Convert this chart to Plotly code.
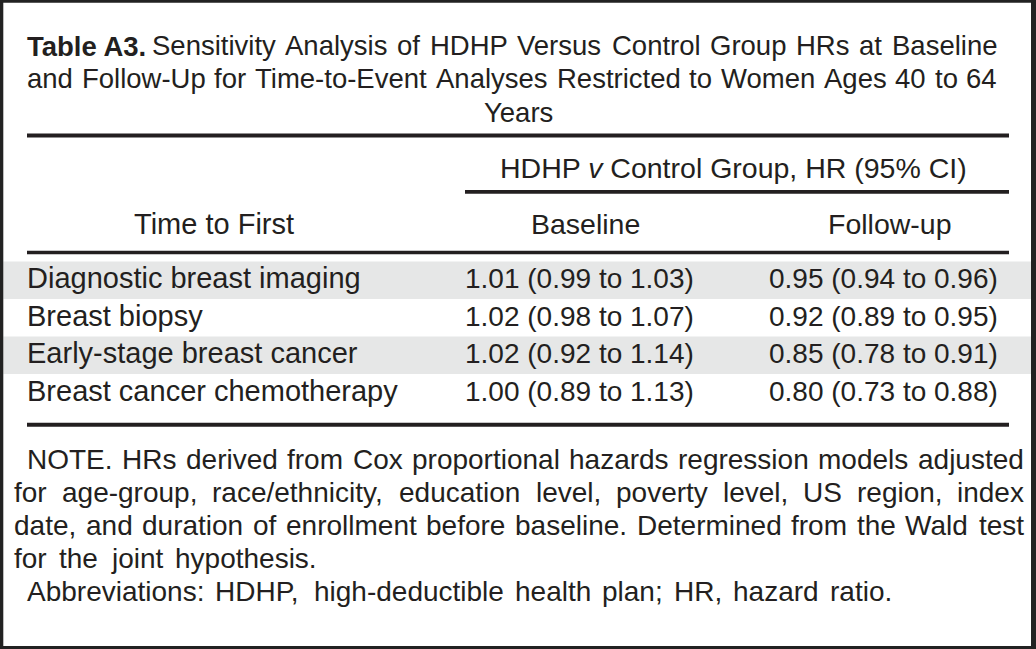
import plotly.graph_objects as go

# ---------------- data ----------------
title_bold = "Table A3."
title_lines = [
    "Sensitivity Analysis of HDHP Versus Control Group HRs at Baseline",
    "and Follow-Up for Time-to-Event Analyses Restricted to Women Ages 40 to 64",
    "Years",
]
group_header = "HDHP <i>v</i> Control Group, HR (95% CI)"
row_header = "Time to First"
periods = ["Baseline", "Follow-up"]
outcomes = [
    "Diagnostic breast imaging",
    "Breast biopsy",
    "Early-stage breast cancer",
    "Breast cancer chemotherapy",
]
baseline_hr = [1.01, 1.02, 1.02, 1.00]
baseline_lo = [0.99, 0.98, 0.92, 0.89]
baseline_hi = [1.03, 1.07, 1.14, 1.13]
followup_hr = [0.95, 0.92, 0.85, 0.80]
followup_lo = [0.94, 0.89, 0.78, 0.73]
followup_hi = [0.96, 0.95, 0.91, 0.88]
note_lines = [
    "NOTE. HRs derived from Cox proportional hazards regression models adjusted",
    "for age-group, race/ethnicity, education level, poverty level, US region, index",
    "date, and duration of enrollment before baseline. Determined from the Wald test",
    "for the joint hypothesis.",
]
abbrev_line = "Abbreviations: HDHP, high-deductible health plan; HR, hazard ratio."

# ---------------- style ----------------
W, H = 1036, 649
FONT = "Liberation Sans, Arial, Helvetica, sans-serif"
INK = "#231f20"
SHADE = "#e6e7e7"

# Arial / Liberation Sans advance widths (1/1000 em)
AW = {' ': 278, '!': 278, '(': 333, ')': 333, ',': 278, '-': 333, '.': 278, '/': 278,
      ':': 278, ';': 278, '%': 889,
      'A': 667, 'B': 667, 'C': 722, 'D': 722, 'E': 667, 'F': 611, 'G': 778, 'H': 722,
      'I': 278, 'J': 500, 'K': 667, 'L': 556, 'M': 833, 'N': 722, 'O': 778, 'P': 667,
      'Q': 778, 'R': 722, 'S': 667, 'T': 611, 'U': 722, 'V': 667, 'W': 944, 'X': 667,
      'Y': 667, 'Z': 611,
      'a': 556, 'b': 556, 'c': 500, 'd': 556, 'e': 556, 'f': 278, 'g': 556, 'h': 556,
      'i': 222, 'j': 222, 'k': 500, 'l': 222, 'm': 833, 'n': 556, 'o': 556, 'p': 556,
      'q': 556, 'r': 333, 's': 500, 't': 278, 'u': 556, 'v': 500, 'w': 722, 'x': 500,
      'y': 500, 'z': 500}
for d in "0123456789":
    AW[d] = 556


def text_w(s, fs):
    return sum(AW.get(c, 556) for c in s) * fs / 1000.0


annotations = []


def add_text(txt, x, baseline, fs, xanchor="left", bold=False):
    annotations.append(dict(
        text=txt, x=x, y=baseline - 0.3465 * fs, xref="x", yref="y",
        xanchor=xanchor, yanchor="middle", showarrow=False,
        borderpad=0, borderwidth=0,
        font=dict(family=FONT, size=fs, color=INK, weight=700 if bold else 400),
    ))


def justify(line, x0, x1, baseline, fs):
    words = line.split(" ")
    widths = [text_w(w, fs) for w in words]
    gap = (x1 - x0 - sum(widths)) / max(len(words) - 1, 1)
    x = x0
    for w, wd in zip(words, widths):
        add_text(w, x, baseline, fs)
        x += wd + gap


shapes = []


def rect(x0, y0, x1, y1, color, layer="below"):
    shapes.append(dict(type="rect", xref="x", yref="y", x0=x0, x1=x1, y0=y0, y1=y1,
                       fillcolor=color, line=dict(width=0), layer=layer))


# ---------------- title ----------------
TFS = 27.5
add_text(title_bold, 27, 56, TFS, bold=True)
justify(title_lines[0], 152, 997, 55.5, TFS)
justify(title_lines[1], 27, 997, 88.5, TFS)
add_text(title_lines[2], 518, 122, TFS, xanchor="center")

# ---------------- rules ----------------
rect(27, 133.5, 1009, 137.5, INK)
rect(465, 190, 1009, 193.7, INK)
rect(27, 250.7, 1009, 254.3, INK)
rect(27, 422.7, 1009, 426.7, INK)

# ---------------- headers ----------------
HFS = 28.5
add_text(group_header, 733, 178.3, HFS, xanchor="center")
add_text(row_header, 214, 234.3, HFS + 0.5, xanchor="center")
period_x = [585, 889.5]
for p, px in zip(periods, period_x):
    add_text(p, px, 234.3, HFS, xanchor="center")

# ---------------- body rows ----------------
row_top0, row_h = 261.5, 37.5
LFS, VFS = 29, 28
for i, name in enumerate(outcomes):
    top = row_top0 + i * row_h
    if i % 2 == 0:
        rect(3.3, top, 1031, top + row_h, SHADE)
    bl = top + 26.8
    add_text(name, 27, bl, LFS)
    add_text(f"{baseline_hr[i]:.2f} ({baseline_lo[i]:.2f} to {baseline_hi[i]:.2f})",
             579, bl, VFS, xanchor="center")
    add_text(f"{followup_hr[i]:.2f} ({followup_lo[i]:.2f} to {followup_hi[i]:.2f})",
             883.5, bl, VFS, xanchor="center")

# ---------------- notes ----------------
NFS = 28
note_base = [469.3, 502.3, 535.3, 568.3]
justify(note_lines[0], 27, 1024, note_base[0], NFS)
justify(note_lines[1], 14, 1024, note_base[1], NFS)
justify(note_lines[2], 14, 1024, note_base[2], NFS)
justify(note_lines[3], 14, 317, note_base[3], NFS)
justify(abbrev_line, 27, 892, 601.5, NFS)

# ---------------- frame ----------------
FRAME = "#222222"
rect(0, 0, 3.3, H, FRAME, "above")
rect(1031, 0, W, H, FRAME, "above")
rect(0, 0, W, 2.8, FRAME, "above")
rect(0, 646, W, H, FRAME, "above")

fig = go.Figure()
fig.update_layout(
    width=W, height=H,
    margin=dict(l=0, r=0, t=0, b=0),
    paper_bgcolor="white", plot_bgcolor="white",
    xaxis=dict(range=[0, W], visible=False, fixedrange=True),
    yaxis=dict(range=[H, 0], visible=False, fixedrange=True),
    shapes=shapes,
    annotations=annotations,
    showlegend=False,
)
fig.write_html(
    "out.html",
    config={"displayModeBar": False},
    post_script="document.body.style.margin='0';document.body.style.overflow='hidden';",
)
